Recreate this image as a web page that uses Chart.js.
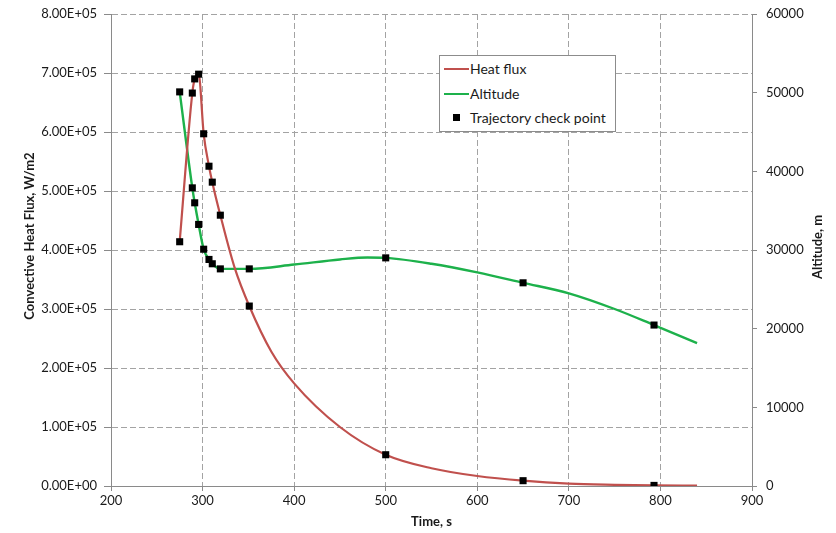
<!DOCTYPE html>
<html><head><meta charset="utf-8">
<script src="https://cdn.jsdelivr.net/npm/chart.js@4.4.1/dist/chart.umd.min.js"></script>
<style>
html,body{margin:0;padding:0;background:#fff;}
#wrap{position:relative;width:836px;height:533px;}
#legend{position:absolute;left:439px;top:55px;width:175px;height:75px;border:1px solid #8c8c8c;background:#fff;font-family:Lato,'Open Sans',sans-serif;font-size:14px;color:#1a1a1a;}
.item{position:absolute;left:30px;height:16px;line-height:16px;white-space:nowrap;transform:translateY(-50%);}
.ln{position:absolute;left:4px;width:25px;height:2px;}
.sq{position:absolute;left:13px;width:7px;height:7px;background:#000;}
</style></head>
<body><div id="wrap"><canvas id="c" width="836" height="533"></canvas>
<div id="legend">
  <div class="ln" style="top:12px;background:#c0504d"></div><div class="item" style="top:13px">Heat flux</div>
  <div class="ln" style="top:37px;background:#1db14b"></div><div class="item" style="top:38px">Altitude</div>
  <div class="sq" style="top:58px"></div><div class="item" style="top:62px">Trajectory check point</div>
</div></div>
<script>
// ---- data ----
const checkTimes    = [275, 288.8, 291.4, 295.7, 301.2, 307, 310.6, 319.4, 351, 500, 650, 793];
const checkHeatFlux = [4.14e5, 6.66e5, 6.90e5, 6.98e5, 5.97e5, 5.42e5, 5.15e5, 4.59e5, 3.05e5, 5.3e4, 9e3, 1e3];
const checkAltitude = [50100, 37900, 36000, 33250, 30100, 28800, 28250, 27600, 27600, 29000, 25830, 20460];

const heatTimes = [275, 288.8, 291.4, 295.7, 301.2, 307, 310.6, 319.4, 335, 351, 375, 400, 450, 500, 550, 600, 650, 700, 750, 793, 840];
const heatFlux  = [4.14e5, 6.66e5, 6.90e5, 6.98e5, 5.97e5, 5.42e5, 5.15e5, 4.59e5, 3.70e5, 3.05e5, 2.28e5, 1.74e5, 1.00e5, 5.3e4, 3.0e4, 1.7e4, 9e3, 4e3, 2e3, 1e3, 5e2];

const altTimes  = [275, 288.8, 291.4, 295.7, 301.2, 307, 310.6, 319.4, 351, 400, 450, 480, 500, 550, 600, 650, 700, 750, 793, 840];
const altitude  = [50100, 37900, 36000, 33250, 30100, 28800, 28250, 27600, 27600, 28150, 28800, 29050, 29000, 28250, 27150, 25830, 24490, 22500, 20460, 18170];

const timeTickLabels = ['200','300','400','500','600','700','800','900'];
const heatTickLabels = ['0.00E+00','1.00E+05','2.00E+05','3.00E+05','4.00E+05','5.00E+05','6.00E+05','7.00E+05','8.00E+05'];
const altTickLabels  = ['0','10000','20000','30000','40000','50000','60000'];

const xTitle = 'Time, s';
const leftTitle = 'Convective Heat Flux, W/m2';
const rightTitle = 'Altitude, m';

// ---- chart ----
const zip = (xs, ys) => xs.map((x, i) => ({x, y: ys[i]}));
const FONT = 'Lato';
const TXT = '#1a1a1a';
Chart.defaults.font.family = FONT;
Chart.defaults.font.size = 13;
Chart.defaults.color = TXT;

const titlePlugin = {
  id: 'yTitles',
  afterDraw(chart) {
    const ctx = chart.ctx;
    ctx.save();
    ctx.font = 'bold 13px ' + FONT;
    ctx.fillStyle = TXT;
    ctx.textAlign = 'center';
    ctx.textBaseline = 'middle';
    ctx.save();
    ctx.translate(30, 236);
    ctx.rotate(-Math.PI / 2);
    ctx.fillText(leftTitle, 0, 0);
    ctx.restore();
    ctx.save();
    ctx.translate(818, 247);
    ctx.rotate(-Math.PI / 2);
    ctx.fillText(rightTitle, 0, 0);
    ctx.restore();
    ctx.restore();
  }
};

const GRID = '#a3a3a3';
const AXIS = '#8a8a8a';

new Chart(document.getElementById('c'), {
  type: 'scatter',
  data: {
    datasets: [
      {label: 'Trajectory check point', data: zip(checkTimes, checkHeatFlux), yAxisID: 'y',
       pointStyle: 'rect', pointRadius: 5, backgroundColor: '#000', borderColor: '#000', borderWidth: 0, showLine: false},
      {label: 'Trajectory check point (alt)', data: zip(checkTimes, checkAltitude), yAxisID: 'y1',
       pointStyle: 'rect', pointRadius: 5, backgroundColor: '#000', borderColor: '#000', borderWidth: 0, showLine: false},
      {label: 'Heat flux', data: zip(heatTimes, heatFlux), yAxisID: 'y', showLine: true,
       borderColor: '#c0504d', borderWidth: 2.2, pointRadius: 0, cubicInterpolationMode: 'monotone', fill: false},
      {label: 'Altitude', data: zip(altTimes, altitude), yAxisID: 'y1', showLine: true,
       borderColor: '#1db14b', borderWidth: 2.4, pointRadius: 0, cubicInterpolationMode: 'monotone', fill: false}
    ]
  },
  options: {
    responsive: false,
    animation: false,
    layout: {padding: {top: 14, left: 0, right: 0, bottom: 0}},
    plugins: {legend: {display: false}, tooltip: {enabled: false}},
    scales: {
      x: {
        type: 'linear', position: 'bottom', min: 200, max: 900,
        ticks: {stepSize: 100, padding: 2, color: TXT, callback: (v, i) => timeTickLabels[i]},
        grid: {color: GRID, tickColor: AXIS, tickLength: 5, lineWidth: 1},
        border: {color: AXIS, width: 1, dash: [6, 3]},
        title: {display: true, text: xTitle, font: {weight: 'bold', size: 13}, color: TXT, padding: {top: 0, bottom: 3}},
        afterFit: s => { s.height = 47; s.paddingLeft = 0; s.paddingRight = 0; }
      },
      y: {
        type: 'linear', position: 'left', min: 0, max: 8e5,
        ticks: {stepSize: 1e5, padding: 7, color: TXT, callback: (v, i) => heatTickLabels[i]},
        grid: {color: GRID, tickColor: AXIS, tickLength: 7, lineWidth: 1},
        border: {color: AXIS, width: 1, dash: [6, 3]},
        afterFit: s => { s.width = 111; s.paddingTop = 0; s.paddingBottom = 0; }
      },
      y1: {
        type: 'linear', position: 'right', min: 0, max: 60000,
        ticks: {stepSize: 10000, padding: 9, color: TXT, callback: (v, i) => altTickLabels[i]},
        grid: {drawOnChartArea: false, tickColor: AXIS, tickLength: 5},
        border: {color: AXIS, width: 1},
        afterFit: s => { s.width = 84; s.paddingTop = 0; s.paddingBottom = 0; }
      }
    }
  },
  plugins: [titlePlugin]
});
</script>
</body></html>
